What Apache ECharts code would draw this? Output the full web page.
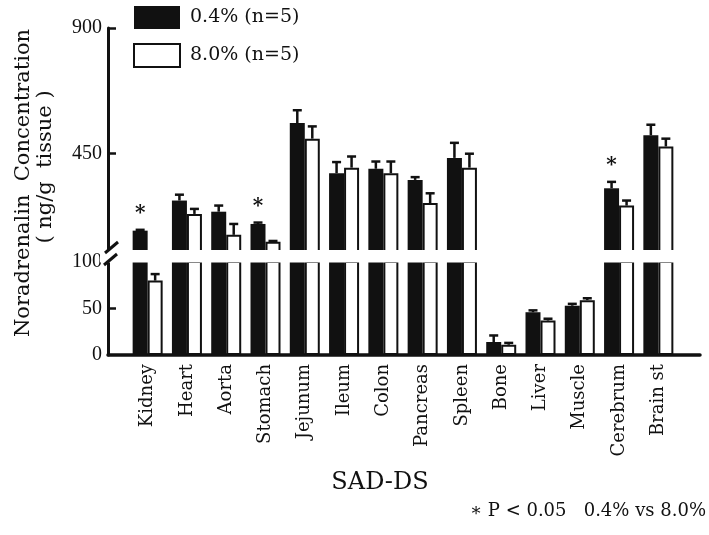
<!DOCTYPE html>
<html><head><meta charset="utf-8">
<script src="https://cdn.jsdelivr.net/npm/echarts@6/dist/echarts.min.js"></script>
<style>html,body{margin:0;padding:0;background:#fff}#c{width:709px;height:535px}</style>
</head><body><div id="c"></div>
<script>
// ---- data ----
const categories = ['Kidney','Heart','Aorta','Stomach','Jejunum','Ileum','Colon','Pancreas','Spleen','Bone','Liver','Muscle','Cerebrum','Brain st'];
const lowSalt     = [173, 281, 241, 197, 559, 379, 395, 355, 434, 14, 46, 53, 325, 515];
const lowSaltErr  = [3, 21, 22, 5, 46, 40, 26, 10, 54, 7, 2, 2, 23, 38];
const highSalt    = [80, 233, 158, 133, 503, 399, 379, 272, 399, 11, 37, 59, 263, 475];
const highSaltErr = [7, 18, 39, 3, 44, 40, 42, 35, 50, 2, 2, 2, 18, 28];
const significant = [1, 0, 0, 1, 0, 0, 0, 0, 0, 0, 0, 0, 1, 0];
const seriesNames = ['0.4% (n=5)', '8.0% (n=5)'];
const upperTickLabels = [450, 900];
const lowerTickLabels = [0, 50, 100];
const lowerTicks = [50];
const BREAK_VALUE = 100;
const UPPER_MAX = 900;

// ---- style ----
const INK = '#111';
const SERIF = 'DejaVu Serif';
const BAR_W = 15;

const chart = echarts.init(document.getElementById('c'), null, {renderer: 'canvas'});

function errData(vals, errs, side, inUpper) {
  const out = [];
  vals.forEach((v, i) => {
    if ((v > BREAK_VALUE) === inUpper) out.push([i, v, errs[i], side, side === 0 ? significant[i] : 0]);
  });
  return out;
}

function renderErr(params, api) {
  const i = api.value(0), v = api.value(1), e = api.value(2), side = api.value(3), star = api.value(4);
  const p = api.coord([i, v]);
  const q = api.coord([i, v + e]);
  const x = p[0] + (side === 0 ? -BAR_W / 2 : BAR_W / 2);
  const children = [
    {type: 'line', shape: {x1: x, y1: p[1], x2: x, y2: q[1]}, style: {stroke: INK, lineWidth: 2.5}},
    {type: 'line', shape: {x1: x - 4.5, y1: q[1], x2: x + 4.5, y2: q[1]}, style: {stroke: INK, lineWidth: 2.5}}
  ];
  if (star) {
    children.push({type: 'text', x: x, y: q[1] - 16,
      style: {text: '*', fontFamily: SERIF, fontWeight: 'bold', fontSize: 20, fill: INK, align: 'center', verticalAlign: 'middle'}});
  }
  return {type: 'group', children};
}

const axisLineStyle = {color: INK, width: 3};
const tickLabelStyle = {fontFamily: 'Liberation Serif', fontSize: 20, color: INK, margin: 6};

const option = {
  animation: false,
  backgroundColor: '#fff',
  legend: {
    orient: 'vertical', left: 128, top: 1, itemWidth: 46, itemHeight: 23, itemGap: 14,
    icon: 'rect', data: seriesNames,
    textStyle: {fontFamily: SERIF, fontSize: 19, color: INK, padding: [0, 0, 0, 5]}
  },
  grid: [
    {left: 128, right: 31, top: 28, height: 223},
    {left: 128, right: 31, top: 262, height: 93},
    {left: 108, right: 9, top: 354, height: 1}
  ],
  xAxis: [
    {gridIndex: 0, type: 'category', data: categories, axisLine: {show: false}, axisTick: {show: false}, axisLabel: {show: false}},
    {gridIndex: 1, type: 'category', data: categories, axisLine: {show: false}, axisTick: {show: false},
      axisLabel: {rotate: 90, margin: 9, fontFamily: SERIF, fontSize: 18, color: INK}},
    {gridIndex: 2, type: 'value', min: 0, max: 1, axisLine: {show: true, lineStyle: {color: INK, width: 3.5}},
      axisTick: {show: false}, axisLabel: {show: false}, splitLine: {show: false}}
  ],
  yAxis: [
    {gridIndex: 0, type: 'value', min: BREAK_VALUE, max: UPPER_MAX, offset: 20,
      axisLine: {show: true, lineStyle: axisLineStyle},
      axisTick: {show: true, inside: true, length: 8, customValues: upperTickLabels, lineStyle: {color: INK, width: 2.5}},
      axisLabel: Object.assign({customValues: upperTickLabels}, tickLabelStyle),
      splitLine: {show: false}},
    {gridIndex: 1, type: 'value', min: 0, max: BREAK_VALUE, offset: 20,
      axisLine: {show: true, lineStyle: axisLineStyle},
      axisTick: {show: true, inside: true, length: 8, customValues: lowerTicks, lineStyle: {color: INK, width: 2.5}},
      axisLabel: Object.assign({customValues: lowerTickLabels}, tickLabelStyle),
      splitLine: {show: false}},
    {gridIndex: 2, type: 'value', show: false}
  ],
  series: [
    {name: seriesNames[0], type: 'bar', xAxisIndex: 0, yAxisIndex: 0, barWidth: BAR_W, barGap: '0%',
      data: lowSalt.map(v => v > BREAK_VALUE ? v : '-'), itemStyle: {color: INK}},
    {name: seriesNames[1], type: 'bar', xAxisIndex: 0, yAxisIndex: 0, barWidth: BAR_W, barGap: '0%',
      data: highSalt.map(v => v > BREAK_VALUE ? v : '-'), itemStyle: {color: '#fff', borderColor: INK, borderWidth: 2}},
    {name: seriesNames[0], type: 'bar', xAxisIndex: 1, yAxisIndex: 1, barWidth: BAR_W, barGap: '0%', clip: true,
      data: lowSalt, itemStyle: {color: INK}},
    {name: seriesNames[1], type: 'bar', xAxisIndex: 1, yAxisIndex: 1, barWidth: BAR_W, barGap: '0%', clip: true,
      data: highSalt, itemStyle: {color: '#fff', borderColor: INK, borderWidth: 2}},
    {type: 'custom', xAxisIndex: 0, yAxisIndex: 0, renderItem: renderErr, z: 5,
      data: errData(lowSalt, lowSaltErr, 0, true).concat(errData(highSalt, highSaltErr, 1, true))},
    {type: 'custom', xAxisIndex: 1, yAxisIndex: 1, renderItem: renderErr, z: 5,
      data: errData(lowSalt, lowSaltErr, 0, false).concat(errData(highSalt, highSaltErr, 1, false))}
  ],
  graphic: [
    {type: 'rect', z: 100, shape: {x: 100, y: 250, width: 605, height: 12.5}, style: {fill: '#fff'}},
    {type: 'line', z: 101, shape: {x1: 105, y1: 253, x2: 118, y2: 242}, style: {stroke: INK, lineWidth: 3}},
    {type: 'line', z: 101, shape: {x1: 104, y1: 265, x2: 117, y2: 254}, style: {stroke: INK, lineWidth: 3}},
    {type: 'text', z: 101, x: 24, y: 183, rotation: Math.PI / 2,
      style: {text: 'Noradrenalin  Concentration', fontFamily: SERIF, fontSize: 21, fill: INK, align: 'center', verticalAlign: 'middle'}},
    {type: 'text', z: 101, x: 46, y: 167, rotation: Math.PI / 2,
      style: {text: '( ng/g  tissue )', fontFamily: SERIF, fontSize: 21, fill: INK, align: 'center', verticalAlign: 'middle'}},
    {type: 'text', z: 101, x: 380, y: 483,
      style: {text: 'SAD-DS', fontFamily: SERIF, fontSize: 24, fill: INK, align: 'center', verticalAlign: 'middle'}},
    {type: 'text', z: 101, x: 706, y: 511,
      style: {text: '∗ P < 0.05   0.4% vs 8.0%', fontFamily: SERIF, fontSize: 18, fill: INK, align: 'right', verticalAlign: 'middle'}}
  ]
};
chart.setOption(option);
</script>
</body></html>
